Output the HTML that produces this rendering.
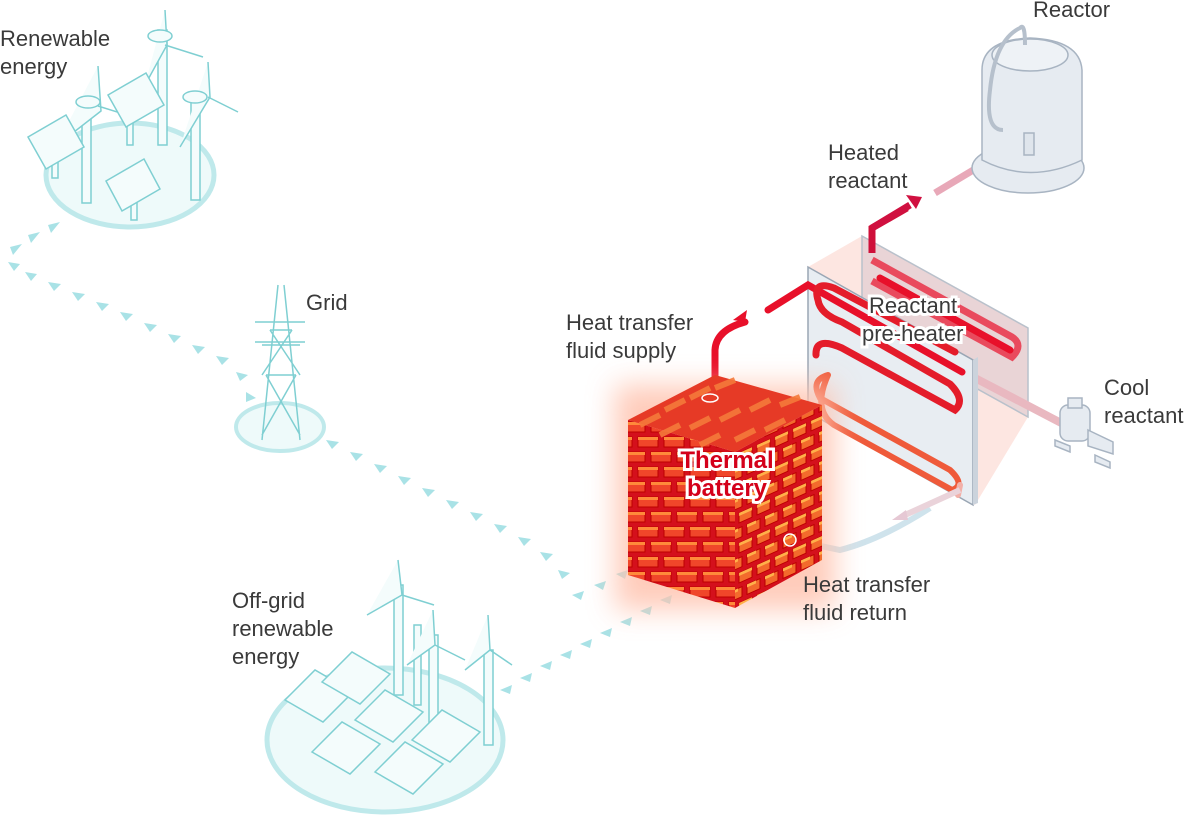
<!DOCTYPE html>
<html><head><meta charset="utf-8"><style>
html,body{margin:0;padding:0;background:#fff}
svg{display:block}
text{font-family:"Liberation Sans",sans-serif;fill:#3a3a3a;font-size:22px}
</style></head><body>
<svg width="1196" height="826" viewBox="0 0 1196 826" xmlns="http://www.w3.org/2000/svg">
<defs>
<filter id="blur" x="-30%" y="-30%" width="160%" height="160%"><feGaussianBlur stdDeviation="14"/></filter>
<pattern id="brickF" width="26" height="30" patternUnits="userSpaceOnUse">
<rect width="26" height="30" fill="#d4101c"/>
<rect x="1" y="2" width="20" height="10" fill="#f0462a" stroke="#b00" stroke-width="1"/>
<rect x="1" y="2" width="20" height="3" fill="#ff8a3a"/>
<rect x="-12" y="17" width="20" height="10" fill="#f0462a" stroke="#b00" stroke-width="1"/>
<rect x="14" y="17" width="20" height="10" fill="#f0462a" stroke="#b00" stroke-width="1"/>
<rect x="14" y="17" width="20" height="3" fill="#ff8a3a"/>
<rect x="-12" y="17" width="20" height="3" fill="#ff8a3a"/>
</pattern>
<pattern id="brickS" width="18" height="30" patternUnits="userSpaceOnUse" patternTransform="skewY(-24)">
<rect width="18" height="30" fill="#d4101c"/>
<rect x="1" y="2" width="13" height="10" fill="#f36a2c" stroke="#b00" stroke-width="1"/>
<rect x="1" y="2" width="13" height="3" fill="#ffb04a"/>
<rect x="9" y="17" width="13" height="10" fill="#f36a2c" stroke="#b00" stroke-width="1"/>
<rect x="-9" y="17" width="13" height="10" fill="#f36a2c" stroke="#b00" stroke-width="1"/>
<rect x="9" y="17" width="13" height="3" fill="#ffb04a"/>
</pattern>
</defs>

<g fill="#a9e2e6">
<path d="M60,222 l-12,3 l3,8z"/><path d="M40,232 l-12,3 l3,8z"/><path d="M22,244 l-12,3 l3,8z"/>
<path d="M8,262 l12,2 l-6,7z"/><path d="M25,272 l12,2 l-6,7z"/>
<path d="M48,282 l13,2 l-7,7z"/><path d="M72,292 l13,2 l-7,7z"/><path d="M96,302 l13,2 l-7,7z"/><path d="M120,312 l13,2 l-7,7z"/><path d="M144,323 l13,2 l-7,7z"/><path d="M168,334 l13,2 l-7,7z"/><path d="M192,345 l13,2 l-7,7z"/><path d="M216,356 l13,2 l-7,7z"/><path d="M236,372 l12,3 l-8,6z"/><path d="M246,392 l10,6 l-10,4z"/>
<path d="M326,440 l13,2 l-7,7z"/><path d="M350,452 l13,2 l-7,7z"/><path d="M374,464 l13,2 l-7,7z"/><path d="M398,476 l13,2 l-7,7z"/><path d="M422,488 l13,2 l-7,7z"/><path d="M446,500 l13,2 l-7,7z"/><path d="M470,512 l13,2 l-7,7z"/><path d="M494,524 l13,2 l-7,7z"/><path d="M518,537 l13,2 l-7,7z"/><path d="M540,552 l13,2 l-7,7z"/><path d="M558,570 l12,3 l-8,6z"/>
<path d="M572,595 l12,-4 l-3,9z"/><path d="M594,585 l12,-4 l-3,9z"/><path d="M616,574 l12,-4 l-3,9z"/><path d="M638,562 l12,-4 l-3,9z"/>
<path d="M500,690 l12,-5 l-2,9z"/><path d="M520,678 l12,-5 l-2,9z"/><path d="M540,666 l12,-5 l-2,9z"/><path d="M560,655 l12,-5 l-2,9z"/><path d="M580,644 l12,-5 l-2,9z"/><path d="M600,633 l12,-5 l-2,9z"/><path d="M620,622 l12,-5 l-2,9z"/><path d="M640,611 l12,-5 l-2,9z"/><path d="M660,600 l12,-5 l-2,9z"/><path d="M680,589 l12,-5 l-2,9z"/>
</g>

<ellipse cx="130" cy="175" rx="84" ry="52" fill="#eefafa" stroke="#bfe9eb" stroke-width="5"/>
<g stroke="#7fcfd2" stroke-width="1.5" fill="#f4fcfc">
<rect x="82" y="98" width="9" height="105"/><rect x="158" y="30" width="9" height="115"/><rect x="191" y="100" width="9" height="100"/><rect x="127" y="100" width="6" height="45"/><rect x="52" y="150" width="6" height="28"/><rect x="131" y="190" width="6" height="30"/>
<path d="M98,66 l3,45 l-45,35 M98,106 l32,10 M165,10 l2,35 l-22,40 M165,45 l38,12 M208,62 l2,35 l-30,50 M208,97 l30,15"/>
<path d="M28,137 l38,-22 l18,32 l-38,22z"/><path d="M108,95 l38,-22 l18,32 l-38,22z"/><path d="M106,181 l38,-22 l16,30 l-38,22z"/>
<ellipse cx="88" cy="102" rx="12" ry="6"/><ellipse cx="160" cy="36" rx="12" ry="6"/><ellipse cx="195" cy="97" rx="12" ry="6"/>
</g>
<text x="0" y="46">Renewable</text><text x="0" y="74">energy</text>

<ellipse cx="280" cy="427" rx="44" ry="24" fill="#eefafa" stroke="#bfe9eb" stroke-width="4"/>
<g stroke="#7fcfd2" stroke-width="1.5" fill="none">
<path d="M278,285 L262,440 M284,285 L300,440 M270,330 l22,0 M262,345 l38,0 M266,375 l30,0 M270,330 l30,45 M292,330 l-30,45 M266,375 l34,60 M296,375 l-34,60 M255,322 l50,0 M255,342 l50,0"/>
</g>
<text x="306" y="310">Grid</text>

<ellipse cx="385" cy="740" rx="118" ry="72" fill="#eefafa" stroke="#bfe9eb" stroke-width="5"/>
<g stroke="#7fcfd2" stroke-width="1.5" fill="#f4fcfc">
<rect x="394" y="585" width="9" height="110"/><rect x="429" y="635" width="9" height="90"/><rect x="484" y="650" width="9" height="95"/><rect x="414" y="625" width="7" height="80"/>
<path d="M398,560 l4,35 l-35,20 M402,595 l32,10 M433,610 l2,35 l-28,20 M435,645 l30,15 M488,615 l2,35 l-25,20 M490,650 l22,15"/>
<path d="M285,700 l30,-30 l38,22 l-30,30z"/><path d="M322,682 l30,-30 l38,22 l-30,30z"/>
<path d="M355,720 l30,-30 l38,22 l-30,30z"/><path d="M412,740 l30,-30 l38,22 l-30,30z"/><path d="M312,752 l30,-30 l38,22 l-30,30z"/><path d="M375,772 l30,-30 l38,22 l-30,30z"/>
</g>
<text x="232" y="608">Off-grid</text><text x="232" y="636">renewable</text><text x="232" y="664">energy</text>

<polygon points="808,267 862,236 1028,328 1028,417 975,505 808,412" fill="#fde0da" opacity="0.8"/>
<polygon points="862,236 1028,328 1028,417 862,325" fill="#e9d4d6" stroke="#b9c1cb" stroke-width="1.5"/>
<path d="M1010,350 l-130,-72" stroke="#e8102a" stroke-width="7" fill="none" stroke-linecap="round"/>
<path d="M872,253 l0,-25 l35,-20" stroke="#cf103a" stroke-width="7" fill="none"/>
<path d="M872,260 l140,77 q12,8 0,20 l-140,-76" stroke="#e8102a" stroke-width="7" fill="none" opacity="0.7"/>
<path d="M975,378 L1065,425" stroke="#e9b8c0" stroke-width="8"/>
<polygon points="808,267 973,360 973,505 808,412" fill="#e8edf2" stroke="#9aa6b4" stroke-width="1.5"/>
<polygon points="973,360 978,357 978,503 973,505" fill="#cbd3dc"/>
<g fill="none" stroke-linecap="round">
<path d="M715,395 L715,350 Q716,330 745,322" stroke="#e8102a" stroke-width="7"/>
<path d="M768,310 L808,285 L962,372" stroke="#e8102a" stroke-width="7"/>
<path d="M955,352 L834,288 Q812,280 818,300 Q820,314 842,322 L950,384 Q966,400 955,410 L842,348 Q815,336 816,355" stroke="#e41c2a" stroke-width="7"/>
<path d="M828,375 Q810,380 820,398 L950,470 Q966,485 952,490 L834,425 Q812,410 828,375" stroke="#ef5a3a" stroke-width="6"/>
<path d="M960,485 L958,495" stroke="#f2b0a8" stroke-width="6"/>
</g>
<path d="M745,322 l-12,-2 l14,-10 l-2,12" fill="#e8102a"/>
<path d="M930,508 Q880,540 840,550 L792,540" stroke="#cfe3ec" stroke-width="6" fill="none"/>
<path d="M960,490 L905,515" stroke="#ead3da" stroke-width="6"/>
<path d="M892,520 l14,-10 l2,10z" fill="#e6c8d4"/>
<path d="M872,228 L910,205" stroke="#d01040" stroke-width="7"/>
<path d="M935,193 L985,163" stroke="#e8a8b8" stroke-width="7"/>
<path d="M922,197 l-16,-2 l10,14z" fill="#d01040"/>
<g stroke="#a8b4c2" stroke-width="1.5" fill="#e6ebf1">
<ellipse cx="1028" cy="168" rx="56" ry="25"/>
<path d="M982,70 Q982,40 1030,38 Q1080,40 1082,70 L1082,160 Q1030,185 982,160z"/>
<ellipse cx="1030" cy="55" rx="38" ry="16" fill="#eef2f6"/>
<path d="M1003,130 Q985,130 990,90 Q995,40 1020,28 Q1025,22 1025,45" fill="none" stroke-width="4" stroke="#b6c0cc"/>
<rect x="1024" y="133" width="10" height="22" fill="#dfe5ec"/>
<rect x="1060" y="405" width="30" height="36" rx="8"/><rect x="1068" y="398" width="14" height="10"/>
<path d="M1088,430 l25,12 l0,12 l-25,-8z"/><path d="M1055,440 l15,6 l0,6 l-15,-6z M1095,455 l15,7 l0,6 l-15,-6z"/>
</g>
<text x="1033" y="17">Reactor</text>
<text x="828" y="160">Heated</text><text x="828" y="188">reactant</text>
<text x="1104" y="395">Cool</text><text x="1104" y="423">reactant</text>

<rect x="615" y="385" width="220" height="225" fill="#ffc2ae" filter="url(#blur)" opacity="0.85"/>
<polygon points="628,420 735,452 735,608 628,575" fill="url(#brickF)"/>
<polygon points="735,452 822,405 822,560 735,608" fill="url(#brickS)"/>
<polygon points="628,420 715,375 822,405 735,452" fill="#e63a26"/>
<g stroke="#f57a3a" stroke-width="6" opacity="0.9">
<path d="M640,425 l20,-10 M665,410 l20,-10 M690,398 l20,-10 M715,388 l20,-8 M660,435 l20,-10 M690,428 l20,-10 M720,420 l20,-10 M750,410 l20,-10 M780,405 l20,-8 M700,445 l20,-10 M735,440 l20,-10 M765,430 l20,-10"/>
</g>
<ellipse cx="710" cy="398" rx="8" ry="4" fill="none" stroke="#fff" stroke-width="1.5"/>
<circle cx="790" cy="540" r="6" fill="none" stroke="#fff" stroke-width="1.5"/>
<text x="727" y="468" text-anchor="middle" style="font-weight:bold;font-size:24px;fill:#d4001a;stroke:#fff;stroke-width:6px;paint-order:stroke">Thermal</text>
<text x="727" y="496" text-anchor="middle" style="font-weight:bold;font-size:24px;fill:#d4001a;stroke:#fff;stroke-width:6px;paint-order:stroke">battery</text>
<text x="566" y="330">Heat transfer</text><text x="566" y="358">fluid supply</text>
<text x="803" y="592">Heat transfer</text><text x="803" y="620">fluid return</text>
<text x="869" y="313" style="stroke:#fff;stroke-width:6px;paint-order:stroke">Reactant</text>
<text x="862" y="341" style="stroke:#fff;stroke-width:6px;paint-order:stroke">pre-heater</text>
</svg>
</body></html>
